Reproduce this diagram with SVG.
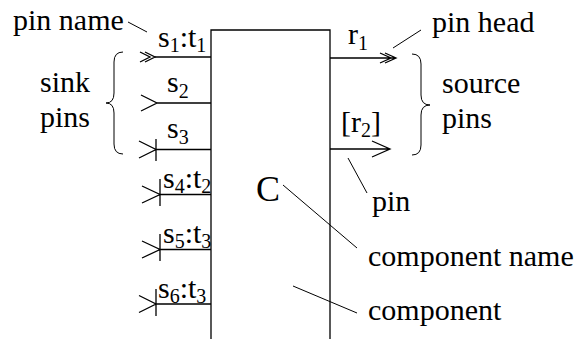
<svg xmlns="http://www.w3.org/2000/svg" width="577" height="339" viewBox="0 0 577 339" font-family="'Liberation Serif', 'DejaVu Serif', serif">
<style>
text{font-family:'Liberation Serif','DejaVu Serif',serif;font-size:30px;fill:#000}
.sub{font-size:20px}
.big{font-size:36px}
.ln{fill:none;stroke:#000;stroke-width:1.3}
.th{fill:none;stroke:#000;stroke-width:1}
</style>
<rect width="577" height="339" fill="#fff"/>
<g id="component">
<path class="ln" d="M211,339 V30 H330 V339"/>
<text class="big" x="256" y="201">C</text>
</g>
<g id="pin-s1">
<path class="ln" d="M155,57 H211"/>
<path class="ln" d="M140,52 L150,57 L140,62 M145,52 L155,57 L145,62"/>
<text x="158" y="47">s<tspan class="sub" dy="5">1</tspan><tspan dy="-5">:t</tspan><tspan class="sub" dy="5">1</tspan></text>
</g>
<g id="pin-s2">
<path class="ln" d="M157,103 H211 M141,95 L157,103 L141,111"/>
<text x="167" y="92">s<tspan class="sub" dy="6">2</tspan></text>
</g>
<g id="pin-s3">
<path class="ln" d="M156,149.5 H211 M139,141 L156,149.5 L139,158 M156,139 V161"/>
<text x="167" y="138">s<tspan class="sub" dy="6">3</tspan></text>
</g>
<g id="pin-s4">
<path class="ln" d="M160,194.5 H211 M142,186 L160,194.5 L142,203 M160,179 V206"/>
<text x="163" y="188">s<tspan class="sub" dy="5">4</tspan><tspan dy="-5">:t</tspan><tspan class="sub" dy="5">2</tspan></text>
</g>
<g id="pin-s5">
<path class="ln" d="M160,249.5 H211 M142,241 L160,249.5 L142,258 M160,234 V261"/>
<text x="163" y="243">s<tspan class="sub" dy="5">5</tspan><tspan dy="-5">:t</tspan><tspan class="sub" dy="5">3</tspan></text>
</g>
<g id="pin-s6">
<path class="ln" d="M156,304 H211 M139,295.5 L156,304 L139,312.5 M156,289 V316"/>
<text x="158" y="298">s<tspan class="sub" dy="5">6</tspan><tspan dy="-5">:t</tspan><tspan class="sub" dy="5">3</tspan></text>
</g>
<g id="pin-r1">
<path class="ln" d="M330,58 H396 M380,53 L391,58 L380,63 M385,53 L396,58 L385,63"/>
<text x="348" y="44">r<tspan class="sub" dy="6">1</tspan></text>
</g>
<g id="pin-r2">
<path class="ln" d="M330,149 H390 M372,141 L390,149 L372,157"/>
<text x="341" y="132">[r<tspan class="sub" dy="5">2</tspan><tspan dy="-5">]</tspan></text>
</g>
<g id="sink-pins">
<path class="th" d="M123,52 Q114,52 114,62 L114,93 Q114,103 106,103 Q114,103 114,113 L114,144 Q114,154 123,154"/>
<text x="40" y="92">sink</text>
<text x="40" y="127">pins</text>
</g>
<g id="source-pins">
<path class="th" d="M412,54 Q421,54 421,64 L421,95 Q421,105 430,105 Q421,105 421,115 L421,145 Q421,155 412,155"/>
<text x="442" y="93">source</text>
<text x="442" y="128">pins</text>
</g>
<g id="labels">
<text x="13" y="30">pin name</text>
<text x="432" y="32">pin head</text>
<text x="372" y="211">pin</text>
<text x="368" y="266">component name</text>
<text x="368" y="320">component</text>
</g>
<g id="connectors">
<path class="th" d="M128,22 L147,32"/>
<path class="th" d="M393,48 L421,30"/>
<path class="th" d="M348,158 L367,193"/>
<path class="th" d="M283,185 L357,248"/>
<path class="th" d="M293,286 L357,313"/>
</g>
</svg>
